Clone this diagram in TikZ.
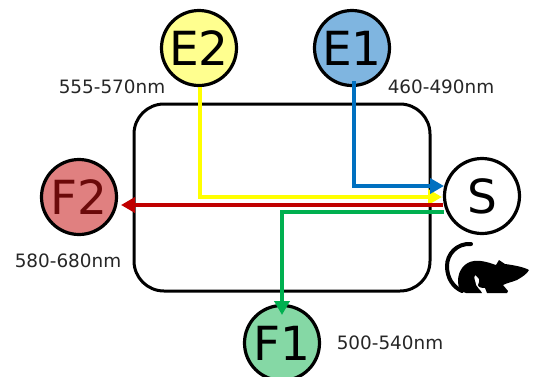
\documentclass[tikz,border=0pt]{standalone}
\usepackage{fontspec}
\setmainfont{DejaVu Sans}
\usetikzlibrary{arrows.meta}
\definecolor{cyel}{HTML}{FFFF8F}
\definecolor{cblue}{HTML}{7FB5E0}
\definecolor{cred}{HTML}{E08080}
\definecolor{cgreen}{HTML}{85D8A5}
\definecolor{lyel}{HTML}{FFFF00}
\definecolor{lblue}{HTML}{0070C0}
\definecolor{lred}{HTML}{C00000}
\definecolor{lgreen}{HTML}{00B050}
\definecolor{ftwo}{HTML}{6B0A0A}
\tikzset{
  dye/.style={circle,draw=black,line width=3.2pt,minimum size=75pt,inner sep=0pt,font=\fontsize{47}{47}\selectfont},
  wl/.style={font=\fontsize{18.4}{18.4}\selectfont,inner sep=0pt,text=black!85},
  beam/.style={line width=4pt,-{Triangle[length=14pt,width=15pt]}},
}
\begin{document}
\begin{tikzpicture}[x=1pt,y=-1pt]
\useasboundingbox (0,0) rectangle (539,376);
\clip (0,0) rectangle (539,376);
\draw[line width=3pt,rounded corners=30pt] (134,104) rectangle (430,291);
\node[dye,fill=cyel] (E2) at (199,48) {E2};
\node[dye,fill=cblue] (E1) at (352,48) {E1};
\node[dye,fill=white] (S) at (482,196) {S};
\node[dye,fill=cred,text=ftwo] (F2) at (79,197) {F2};
\node[dye,fill=cgreen] (F1) at (282,343) {F1};
\node[wl] (l1) at (112,87) {555-570nm};
\node[wl] (l2) at (441,87) {460-490nm};
\node[wl] (l3) at (68,261) {580-680nm};
\node[wl] (l4) at (390,343) {500-540nm};
\coordinate (ys) at (200,87);
\coordinate (ye) at (442,197);
\coordinate (bs) at (354,81);
\coordinate (be) at (444,186);
\coordinate (rs) at (443,205);
\coordinate (re) at (121,205);
\coordinate (gs) at (444,212);
\coordinate (ge) at (282,315);
\draw[beam,draw=lyel] (ys) |- (ye);
\draw[beam,draw=lblue] (bs) |- (be);
\draw[beam,draw=lred] (rs) -- (re);
\draw[beam,draw=lgreen] (gs) -| (ge);
% mouse
\fill[black] (458,281) .. controls (458,270) and (465,262) .. (474,261)
 .. controls (482,260) and (490,263) .. (496,265)
 -- (499,260) -- (505,264)
 .. controls (513,265) and (524,267) .. (529,270)
 .. controls (527,274) and (522,277) .. (517,280)
 .. controls (512,282) and (507,283) .. (503,285)
 -- (508,291) -- (507,293) -- (487,293)
 -- (485,288) .. controls (481,288) and (478,287) .. (478,285)
 .. controls (479,282) and (480,281) .. (479,279)
 .. controls (478,277) and (476,276) .. (475,275)
 .. controls (473,278) and (476,282) .. (476,285)
 .. controls (477,288) and (480,289) .. (482,293)
 -- (466,293) .. controls (460,292) and (458,287) .. (458,281) -- cycle;
\draw[line width=4pt,line cap=round] (471,244) .. controls (457,243) and (447,254) .. (447,266)
 .. controls (447,278) and (453,287) .. (462,291);
\end{tikzpicture}
\end{document}
